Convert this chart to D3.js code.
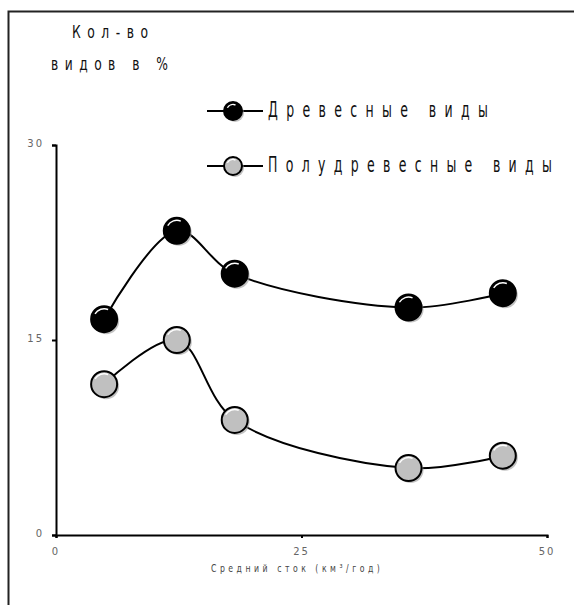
<!DOCTYPE html>
<html>
<head>
<meta charset="utf-8">
<script src="https://cdn.jsdelivr.net/npm/d3@7"></script>
<style>
  body { margin: 0; background: #fff; }
  text { font-family: "DejaVu Sans", sans-serif; }
</style>
</head>
<body>
<div id="chart"></div>
<script>
const seriesNames = ["Древесные виды", "Полудревесные виды"];
const xValues = [4.9, 12.3, 18.2, 35.9, 45.5];
const woody = [16.6, 23.4, 20.1, 17.5, 18.6];
const semiWoody = [11.6, 15.0, 8.85, 5.15, 6.1];
const xTicks = [0, 25, 50];
const yTicks = [0, 15, 30];
const fills = ["#000", "#c0c0c0"];

const width = 574, height = 605;
const svg = d3.select("#chart").append("svg")
  .attr("width", width).attr("height", height);

// frame (right and bottom edges fall outside the picture)
svg.append("path")
  .attr("d", "M8.5," + height + "V11.5H" + width)
  .attr("fill", "none").attr("stroke", "#222").attr("stroke-width", 2);

const x = d3.scaleLinear().domain([0, 50]).range([56, 547]);
const y = d3.scaleLinear().domain([0, 30]).range([535, 145]);

// narrow, widely spaced lettering: squeeze to the wanted width
function label(px, py, str, size, w, ls, color) {
  const t = svg.append("text")
    .attr("font-size", size).attr("fill", color || "#111")
    .attr("letter-spacing", ls)
    .text(str);
  const natural = t.node().getComputedTextLength() - ls;
  t.attr("transform", `translate(${px},${py}) scale(${w / natural},1)`);
  return t;
}

// axes
const gx = svg.append("g").attr("transform", `translate(0,${y(0)})`)
  .call(d3.axisBottom(x).tickValues(xTicks).tickSize(3).tickFormat(""));
const gy = svg.append("g").attr("transform", `translate(${x(0)},0)`)
  .call(d3.axisLeft(y).tickValues(yTicks).tickSize(4).tickFormat(""));
[gx, gy].forEach((g) => {
  g.select(".domain").attr("stroke-width", 2);
  g.selectAll(".tick line").attr("stroke-width", 2);
});

svg.selectAll(".xlab").data(xTicks).enter().append("text")
  .attr("x", (d) => x(d)).attr("y", 555)
  .attr("text-anchor", "middle")
  .attr("font-size", 10).attr("fill", "#666")
  .attr("letter-spacing", 2)
  .text((d) => d);

svg.selectAll(".ylab").data(yTicks).enter().append("text")
  .attr("x", 44).attr("y", (d) => y(d) + 2)
  .attr("text-anchor", "end")
  .attr("font-size", 10).attr("fill", "#666")
  .attr("letter-spacing", 2)
  .text((d) => d);

label(211, 572, "Средний сток (км³/год)", 11, 169, 5, "#444");

// y title
label(72, 38, "Кол-во", 17, 76, 9);
label(51, 70, "видов в %", 17, 117, 9);

function marker(g, cx, cy, r, fill) {
  g.append("circle").attr("cx", cx + 2).attr("cy", cy + 2).attr("r", r)
    .attr("fill", "#999").attr("opacity", 0.6);
  g.append("circle").attr("cx", cx).attr("cy", cy).attr("r", r)
    .attr("fill", fill).attr("stroke", "#000").attr("stroke-width", 2);
  const a = r - 2.5;
  g.append("path")
    .attr("d", `M${cx - a * Math.cos(Math.PI / 6)},${cy - a * Math.sin(Math.PI / 6)}` +
      `A${a},${a} 0 0 1 ${cx + a * Math.sin(Math.PI / 8)},${cy - a * Math.cos(Math.PI / 8)}`)
    .attr("fill", "none").attr("stroke", "#fff").attr("stroke-width", 1.4);
}

const line = d3.line().x((d) => x(d[0])).y((d) => y(d[1]))
  .curve(d3.curveCatmullRom.alpha(0.5));

[woody, semiWoody].forEach((vals, i) => {
  const pts = xValues.map((v, j) => [v, vals[j]]);
  svg.append("path").datum(pts).attr("d", line)
    .attr("fill", "none").attr("stroke", "#000").attr("stroke-width", 2);
  const g = svg.append("g");
  pts.forEach((p) => marker(g, x(p[0]), y(p[1]), 13, fills[i]));
});

// legend
const legendWidths = [220, 284];
seriesNames.forEach((name, i) => {
  const ly = 111 + i * 55;
  svg.append("line").attr("x1", 207).attr("x2", 263)
    .attr("y1", ly).attr("y2", ly)
    .attr("stroke", "#000").attr("stroke-width", 2);
  marker(svg, 233, ly, 9, fills[i]);
  label(268, ly + 6, name, 21, legendWidths[i], 14);
});
</script>
</body>
</html>
